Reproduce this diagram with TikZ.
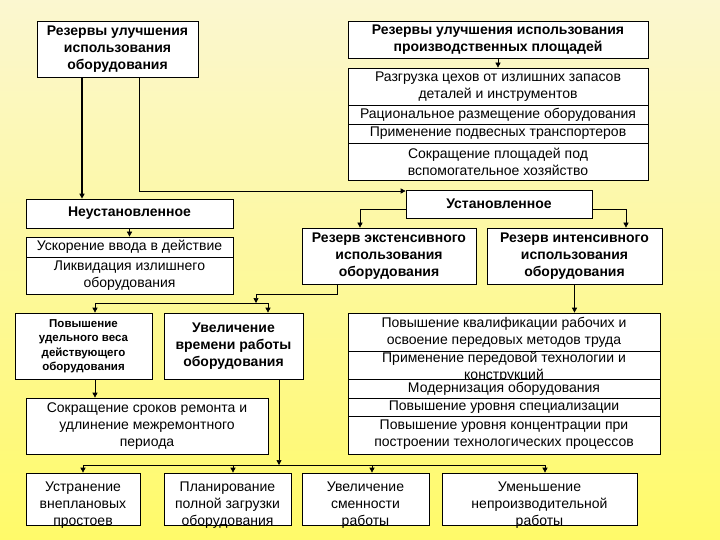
\documentclass[tikz,border=0pt]{standalone}
\usepackage{fontspec}
\setmainfont{Liberation Sans}
\usetikzlibrary{arrows.meta}
\definecolor{bgtop}{RGB}{251,247,208}
\definecolor{bgbottom}{RGB}{255,250,105}

\begin{document}
\begin{tikzpicture}[
  x=1pt, y=-1pt,
  box/.style={rectangle, draw=black, fill=white, line width=0.7pt, inner sep=1pt, align=center, font=\fontsize{14}{17}\selectfont},
  headbox/.style={box, font=\fontsize{14}{17}\selectfont\bfseries},
  smallhead/.style={box, font=\fontsize{11.5}{14.5}\selectfont\bfseries},
  lowbox/.style={box, minimum height=52pt},
  lowtext/.style={align=center, inner sep=0pt, yshift=-6pt, font=\fontsize{14}{17}\selectfont},
  arrow/.style={-{Triangle[length=5pt,width=5pt]}, line width=0.7pt},
  thickarrow/.style={arrow, line width=1.8pt}
]
  \shade[top color=bgtop, bottom color=bgbottom] (0,0) rectangle (720,540);

  \node[headbox, minimum width=161pt, minimum height=56pt] (resEquip) at (117.5,49) {Резервы улучшения\\использования\\оборудования};
  \node[headbox, minimum width=300pt, minimum height=37pt] (resArea) at (498,39.5) {Резервы улучшения использования\\производственных площадей};
  \node[box, minimum width=300pt, minimum height=37pt] (area1) at (498,86.5) {Разгрузка цехов от излишних запасов\\деталей и инструментов};
  \node[box, minimum width=300pt, minimum height=19pt] (area2) at (498,114.5) {Рациональное размещение оборудования};
  \node[box, minimum width=300pt, minimum height=19pt] (area3) at (498,133.5) {Применение подвесных транспортеров};
  \node[box, minimum width=300pt, minimum height=37pt] (area4) at (498,161.5) {Сокращение площадей под\\вспомогательное хозяйство};

  \node[headbox, minimum width=207pt, minimum height=29pt] (neust) at (129.5,213.5) {Неустановленное};
  \node[box, minimum width=207pt, minimum height=20pt] (nl1) at (129.5,247) {Ускорение ввода в действие};
  \node[box, minimum width=207pt, minimum height=37pt] (nl2) at (129.5,275.5) {Ликвидация излишнего\\оборудования};

  \node[headbox, minimum width=186pt, minimum height=28pt] (ust) at (499,204) {Установленное};
  \node[headbox, minimum width=174pt, minimum height=56pt] (ext) at (389,256) {Резерв экстенсивного\\использования\\оборудования};
  \node[headbox, minimum width=175pt, minimum height=56pt] (int) at (574.5,256) {Резерв интенсивного\\использования\\оборудования};

  \node[box, minimum width=312pt, minimum height=38pt] (il1) at (504,332) {Повышение квалификации рабочих и\\освоение передовых методов труда};
  \node[box, minimum width=312pt, minimum height=28pt] (il2) at (504,367) {Применение передовой технологии и\\конструкций};
  \node[box, minimum width=312pt, minimum height=19pt] (il3) at (504,388.5) {Модернизация оборудования};
  \node[box, minimum width=312pt, minimum height=18pt] (il4) at (504,407) {Повышение уровня специализации};
  \node[box, minimum width=312pt, minimum height=38pt] (il5) at (504,435) {Повышение уровня концентрации при\\построении технологических процессов};

  \node[smallhead, minimum width=137pt, minimum height=66pt] (weight) at (83.5,346) {Повышение\\удельного веса\\действующего\\оборудования};
  \node[headbox, minimum width=139pt, minimum height=66pt] (time) at (233.5,346) {Увеличение\\времени работы\\оборудования};
  \node[box, minimum width=242pt, minimum height=56pt] (repair) at (147,426) {Сокращение сроков ремонта и\\удлинение межремонтного\\периода};

  \node[lowbox, minimum width=114pt, label={[lowtext]center:{Устранение\\внеплановых\\простоев}}] (low1) at (83,499) {};
  \node[lowbox, minimum width=127pt, label={[lowtext]center:{Планирование\\полной загрузки\\оборудования}}] (low2) at (227.5,499) {};
  \node[lowbox, minimum width=127pt, label={[lowtext]center:{Увеличение\\сменности\\работы}}] (low3) at (365.5,499) {};
  \node[lowbox, minimum width=195pt, label={[lowtext]center:{Уменьшение\\непроизводительной\\работы}}] (low4) at (539.5,499) {};

  \coordinate (k1) at (82,0);
  \coordinate (k2) at (139,191);
  \coordinate (k3) at (360,209);
  \coordinate (k4) at (626,209);
  \coordinate (e1) at (337,294);
  \coordinate (j1) at (256,303);
  \coordinate (bl) at (95,303);
  \coordinate (br) at (268,303);
  \coordinate (j2) at (279,465);
  \coordinate (d1) at (83,465);
  \coordinate (d2) at (233,465);
  \coordinate (d3) at (372,465);
  \coordinate (d4) at (545,465);

  \draw[thickarrow] (resEquip.south -| k1) -- (neust.north -| k1);
  \draw[arrow] (resEquip.south -| k2) -- (k2) -- (k2 -| ust.west);
  \draw[arrow] (resArea.south) -- (area1.north);
  \draw[arrow] (neust.south) -- (nl1.north);
  \draw[arrow] (k3 -| ust.west) -- (k3) -- (k3 |- ext.north);
  \draw[arrow] (k4 -| ust.east) -- (k4) -- (k4 |- int.north);
  \draw[arrow] (int.south) -- (int.south |- il1.north);
  \draw[arrow] (ext.south -| e1) -- (e1) -| (j1);
  \draw[line width=0.7pt] (bl) -- (br);
  \draw[arrow] (bl) -- (bl |- weight.north);
  \draw[arrow] (br) -- (br |- time.north);
  \draw[arrow] (weight.south -| bl) -- (repair.north -| bl);
  \draw[arrow] (time.south -| j2) -- (j2);
  \draw[line width=0.7pt] (d1) -- (d4);
  \foreach \d/\b in {d1/low1, d2/low2, d3/low3, d4/low4}
    \draw[arrow] (\d) -- (\d |- \b.north);
\end{tikzpicture}
\end{document}
